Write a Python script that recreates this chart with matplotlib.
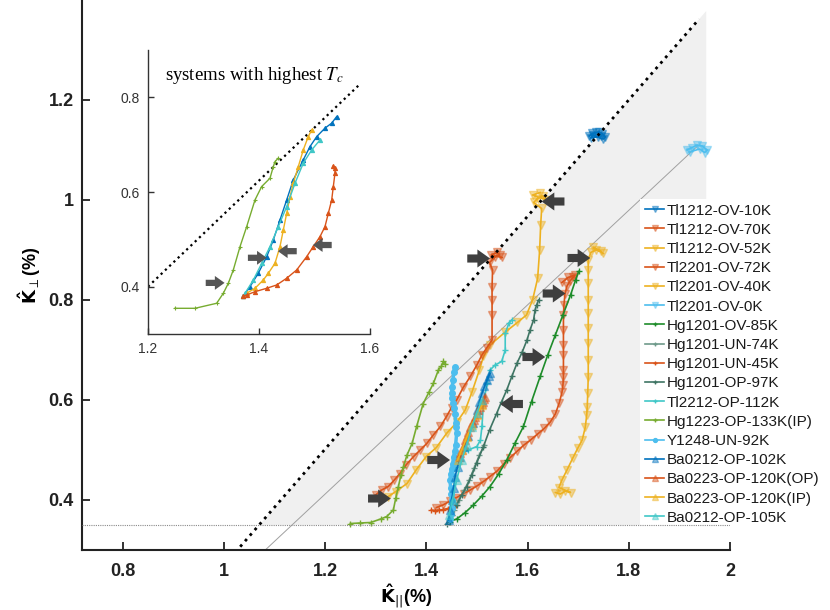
import matplotlib
matplotlib.use("Agg")
import matplotlib.pyplot as plt
from matplotlib.colors import to_rgba

plt.rcParams['font.family'] = ['Liberation Sans', 'DejaVu Sans']
plt.rcParams['mathtext.fontset'] = 'dejavusans'

BLUE, RED, YEL, LBLUE = "#0072BD", "#D95319", "#EDB120", "#4DBEEE"
GREEN, LGREEN, TEAL, GTEAL, CYAN = "#1E8C2A", "#77AC30", "#3E7463", "#6E9A8A", "#3FC7C7"

# ---- main panel data ----
tl1212_10_x = [1.722, 1.728, 1.735, 1.742, 1.748, 1.754, 1.750, 1.740, 1.730, 1.725, 1.745]
tl1212_10_y = [1.128, 1.133, 1.135, 1.136, 1.132, 1.126, 1.122, 1.125, 1.130, 1.124, 1.128]

tl1212_70_x = [1.420, 1.433, 1.447, 1.460, 1.474, 1.487, 1.500, 1.513, 1.526, 1.540, 1.553, 1.566,
               1.580, 1.593, 1.606, 1.620, 1.633, 1.645, 1.655, 1.663, 1.668, 1.670, 1.671, 1.671,
               1.671, 1.671, 1.671, 1.671, 1.672, 1.674, 1.678, 1.684, 1.690, 1.694, 1.680, 1.668]
tl1212_70_y = [0.385, 0.390, 0.398, 0.405, 0.413, 0.420, 0.428, 0.437, 0.447, 0.458, 0.472, 0.485,
               0.498, 0.510, 0.520, 0.532, 0.543, 0.556, 0.572, 0.595, 0.615, 0.630, 0.645, 0.660,
               0.690, 0.710, 0.740, 0.770, 0.790, 0.812, 0.828, 0.838, 0.845, 0.850, 0.845, 0.835]

tl1212_52_x = [1.310, 1.325, 1.340, 1.362, 1.380, 1.400, 1.420, 1.440, 1.460, 1.477, 1.490, 1.505,
               1.513, 1.526, 1.555, 1.580, 1.598, 1.610, 1.620, 1.624, 1.626, 1.628, 1.612, 1.620,
               1.630, 1.638, 1.610, 1.625]
tl1212_52_y = [0.400, 0.407, 0.417, 0.433, 0.460, 0.487, 0.505, 0.533, 0.555, 0.580, 0.615, 0.660,
               0.687, 0.710, 0.735, 0.755, 0.770, 0.800, 0.843, 0.900, 0.950, 0.983, 0.995, 1.003,
               1.008, 1.000, 1.010, 1.015]

tl2201_72_x = [1.300, 1.312, 1.325, 1.337, 1.348, 1.360, 1.375, 1.388, 1.401, 1.414, 1.428, 1.440,
               1.450, 1.460, 1.473, 1.487, 1.500, 1.510, 1.520, 1.530, 1.530, 1.530, 1.530, 1.531,
               1.525, 1.535, 1.545, 1.540, 1.528, 1.550]
tl2201_72_y = [0.410, 0.420, 0.427, 0.440, 0.453, 0.470, 0.487, 0.500, 0.513, 0.530, 0.547, 0.567,
               0.585, 0.600, 0.625, 0.647, 0.670, 0.690, 0.705, 0.720, 0.770, 0.800, 0.827, 0.860,
               0.875, 0.885, 0.890, 0.895, 0.890, 0.885]

tl2201_40_x = [1.655, 1.665, 1.675, 1.685, 1.662, 1.668, 1.678, 1.690, 1.700, 1.708, 1.714, 1.717,
               1.718, 1.719, 1.720, 1.720, 1.720, 1.720, 1.720, 1.720, 1.720, 1.720, 1.720, 1.725,
               1.735, 1.745, 1.730, 1.750]
tl2201_40_y = [0.415, 0.412, 0.418, 0.415, 0.425, 0.440, 0.460, 0.485, 0.505, 0.520, 0.545, 0.570,
               0.586, 0.614, 0.646, 0.680, 0.714, 0.744, 0.774, 0.800, 0.834, 0.860, 0.880, 0.895,
               0.900, 0.898, 0.905, 0.893]

tl2201_0_x = [1.915, 1.925, 1.935, 1.945, 1.955, 1.950, 1.940, 1.920]
tl2201_0_y = [1.100, 1.105, 1.110, 1.108, 1.100, 1.095, 1.102, 1.096]

hg1201_85_x = [1.447, 1.460, 1.477, 1.493, 1.510, 1.526, 1.543, 1.559, 1.575, 1.592, 1.608, 1.625,
               1.640, 1.655, 1.670, 1.685, 1.695, 1.701]
hg1201_85_y = [0.357, 0.362, 0.375, 0.390, 0.408, 0.427, 0.452, 0.480, 0.513, 0.547, 0.597, 0.647,
               0.690, 0.730, 0.770, 0.810, 0.840, 0.857]

hg1201_74_x = [1.445, 1.455, 1.465, 1.475, 1.485, 1.495, 1.505, 1.515]
hg1201_74_y = [0.360, 0.380, 0.400, 0.420, 0.440, 0.465, 0.490, 0.510]

hg1201_45_x = [1.410, 1.418, 1.426, 1.434, 1.442, 1.450, 1.458]
hg1201_45_y = [0.380, 0.379, 0.380, 0.381, 0.383, 0.386, 0.390]

hg1201_97_x = [1.440, 1.450, 1.460, 1.470, 1.480, 1.490, 1.500, 1.513, 1.525, 1.539, 1.549, 1.559,
               1.569, 1.579, 1.590, 1.599, 1.605, 1.612, 1.615, 1.618, 1.622]
hg1201_97_y = [0.353, 0.370, 0.390, 0.410, 0.427, 0.450, 0.475, 0.507, 0.540, 0.573, 0.597, 0.620,
               0.647, 0.673, 0.697, 0.720, 0.740, 0.760, 0.780, 0.790, 0.800]

tl2212_x = [1.457, 1.467, 1.483, 1.500, 1.507, 1.510, 1.513, 1.520, 1.526, 1.536, 1.549, 1.556,
            1.556, 1.563, 1.569]
tl2212_y = [0.467, 0.493, 0.500, 0.507, 0.520, 0.547, 0.593, 0.633, 0.660, 0.670, 0.677, 0.700,
            0.733, 0.753, 0.760]

hg1223_x = [1.250, 1.270, 1.290, 1.310, 1.322, 1.335, 1.340, 1.345, 1.350, 1.355, 1.362, 1.372,
            1.381, 1.394, 1.405, 1.414, 1.424, 1.430, 1.434, 1.438]
hg1223_y = [0.353, 0.354, 0.355, 0.362, 0.367, 0.380, 0.405, 0.427, 0.450, 0.467, 0.490, 0.513,
            0.547, 0.593, 0.615, 0.633, 0.660, 0.668, 0.677, 0.672]

y1248_x = [1.447, 1.449, 1.450, 1.450, 1.449, 1.448, 1.447, 1.448, 1.450, 1.452, 1.454, 1.456,
           1.458, 1.460, 1.459, 1.458, 1.457, 1.455, 1.453, 1.450, 1.450, 1.451, 1.453, 1.454,
           1.456]
y1248_y = [0.362, 0.372, 0.385, 0.400, 0.412, 0.425, 0.440, 0.453, 0.462, 0.472, 0.487, 0.498,
           0.510, 0.533, 0.545, 0.553, 0.573, 0.585, 0.595, 0.605, 0.613, 0.625, 0.640, 0.655,
           0.665]

ba0212_102_x = [1.444, 1.447, 1.450, 1.454, 1.457, 1.462, 1.467, 1.475, 1.483, 1.492, 1.500, 1.505,
                1.510, 1.515, 1.520, 1.523, 1.526]
ba0212_102_y = [0.360, 0.380, 0.400, 0.425, 0.447, 0.467, 0.487, 0.507, 0.527, 0.553, 0.580, 0.597,
                0.613, 0.627, 0.640, 0.647, 0.653]

ba0223_op_x = [1.464, 1.467, 1.470, 1.474, 1.477, 1.480, 1.483, 1.487, 1.490, 1.494, 1.497, 1.500,
               1.503, 1.507, 1.510, 1.512, 1.514, 1.516]
ba0223_op_y = [0.487, 0.494, 0.500, 0.510, 0.520, 0.528, 0.535, 0.545, 0.553, 0.560, 0.567, 0.573,
               0.580, 0.587, 0.592, 0.597, 0.602, 0.607]

ba0223_ip_x = [1.462, 1.470, 1.480, 1.490, 1.500, 1.510]
ba0223_ip_y = [0.480, 0.500, 0.525, 0.550, 0.570, 0.590]

ba0212_105_x = [1.445, 1.452, 1.460, 1.470, 1.480, 1.490, 1.500, 1.510]
ba0212_105_y = [0.370, 0.400, 0.440, 0.480, 0.510, 0.545, 0.575, 0.600]

# ---- inset data (systems with highest Tc) ----
in_hg1223_x = [1.2486, 1.2847, 1.3237, 1.3357, 1.3447, 1.3537, 1.3658, 1.3778, 1.3928, 1.4048,
               1.4198, 1.4258, 1.4288, 1.4348]
in_hg1223_y = [0.3543, 0.3543, 0.3649, 0.3860, 0.4071, 0.4353, 0.4846, 0.5269, 0.5833, 0.6115,
               0.6291, 0.6537, 0.6643, 0.6715]
in_ba0212_102_x = [1.3718, 1.3838, 1.3987, 1.4139, 1.4258, 1.4378, 1.4499, 1.4618, 1.4798, 1.4919,
                   1.5040, 1.5189, 1.5310, 1.5400]
in_ba0212_102_y = [0.3803, 0.4000, 0.4283, 0.4634, 0.4987, 0.5410, 0.5833, 0.6256, 0.6679, 0.6960,
                   0.7171, 0.7349, 0.7455, 0.7595]
in_ba0212_105_x = [1.3718, 1.3748, 1.3897, 1.4049, 1.4198, 1.4348, 1.4499, 1.4649, 1.4798, 1.4950,
                   1.5099]
in_ba0212_105_y = [0.3803, 0.3860, 0.4140, 0.4495, 0.4846, 0.5269, 0.5691, 0.6186, 0.6609, 0.6890,
                   0.7100]
in_ba0223_ip_x = [1.3718, 1.3778, 1.3928, 1.4078, 1.4168, 1.4288, 1.4378, 1.4438, 1.4499, 1.4559,
                  1.4618, 1.4708, 1.4798, 1.4888, 1.4950]
in_ba0223_ip_y = [0.3803, 0.3860, 0.3966, 0.4142, 0.4283, 0.4494, 0.4846, 0.5198, 0.5551, 0.5903,
                  0.6186, 0.6537, 0.6890, 0.7171, 0.7313]
in_ba0223_op_x = [1.3718, 1.3778, 1.3928, 1.4139, 1.4319, 1.4499, 1.4679, 1.4859, 1.4978, 1.5099,
                  1.5189, 1.5249, 1.5310, 1.5339, 1.5369, 1.5369, 1.5339]
in_ba0223_op_y = [0.3803, 0.3825, 0.3894, 0.3966, 0.4036, 0.4178, 0.4353, 0.4634, 0.4846, 0.5057,
                  0.5269, 0.5551, 0.5833, 0.6115, 0.6397, 0.6502, 0.6552]

# reference lines / arrows
diag_x, diag_y = [1.0325, 1.939], [0.3066, 1.362]
shade_x, shade_y = [1.0705, 1.953, 1.953], [0.35, 1.378, 0.35]
guide_x, guide_y = [1.082, 1.935], [0.300, 1.107]
floor_y = 0.35
in_diag_x, in_diag_y = [1.2, 1.582], [0.4, 0.828]
arrow_x = [1.330, 1.447, 1.546, 1.635, 1.526, 1.628, 1.724, 1.675]
arrow_y = [0.403, 0.480, 0.592, 0.686, 0.883, 0.997, 0.884, 0.813]
arrow_dir = [1, 1, -1, 1, 1, -1, 1, 1]
in_arrow_x = [1.338, 1.414, 1.434, 1.497]
in_arrow_y = [0.408, 0.461, 0.475, 0.488]
in_arrow_dir = [1, 1, -1, -1]

series = [
    ("Tl1212-OV-10K", BLUE, "v", tl1212_10_x, tl1212_10_y),
    ("Tl1212-OV-70K", RED, "v", tl1212_70_x, tl1212_70_y),
    ("Tl1212-OV-52K", YEL, "v", tl1212_52_x, tl1212_52_y),
    ("Tl2201-OV-72K", RED, "v", tl2201_72_x, tl2201_72_y),
    ("Tl2201-OV-40K", YEL, "v", tl2201_40_x, tl2201_40_y),
    ("Tl2201-OV-0K", LBLUE, "v", tl2201_0_x, tl2201_0_y),
    ("Hg1201-OV-85K", GREEN, "+", hg1201_85_x, hg1201_85_y),
    ("Hg1201-UN-74K", GTEAL, "+", hg1201_74_x, hg1201_74_y),
    ("Hg1201-UN-45K", RED, "+", hg1201_45_x, hg1201_45_y),
    ("Hg1201-OP-97K", TEAL, "+", hg1201_97_x, hg1201_97_y),
    ("Tl2212-OP-112K", CYAN, "+", tl2212_x, tl2212_y),
    ("Hg1223-OP-133K(IP)", LGREEN, "+", hg1223_x, hg1223_y),
    ("Y1248-UN-92K", LBLUE, ".", y1248_x, y1248_y),
    ("Ba0212-OP-102K", BLUE, "^", ba0212_102_x, ba0212_102_y),
    ("Ba0223-OP-120K(OP)", RED, "^", ba0223_op_x, ba0223_op_y),
    ("Ba0223-OP-120K(IP)", YEL, "^", ba0223_ip_x, ba0223_ip_y),
    ("Ba0212-OP-105K", CYAN, "^", ba0212_105_x, ba0212_105_y),
]
marker_size = {"v": 6, "+": 5, ".": 8, "^": 6}

fig = plt.figure(figsize=(8.3, 6.1), dpi=100)
ax = fig.add_axes([82 / 830, 60 / 610, 648 / 830, 550 / 610])

ax.fill(shade_x, shade_y, color="#f0f0f0", lw=0, zorder=0)
ax.plot(diag_x, diag_y, ls=":", color="black", lw=2, zorder=5)
ax.plot(guide_x, guide_y, color="#a0a0a0", lw=0.7, zorder=1)
ax.axhline(floor_y, color="#8a8a8a", lw=0.8, ls=(0, (1, 1)), zorder=6)

for name, col, mk, xs, ys in series:
    face = to_rgba(col, 0.45) if mk in "v^" else col
    lw = 2.5 if mk == "." else 1.2
    ax.plot(xs, ys, color=col, marker=mk, ms=marker_size[mk], mew=1,
            mfc=face, lw=lw, label=name, zorder=3)


def block_arrow(a, x, y, d, length, col, scale):
    a.annotate("", xy=(x, y), xytext=(x - d * length, y), zorder=6,
               arrowprops=dict(arrowstyle="simple,head_length=0.7,head_width=1.0,tail_width=0.45",
                               fc=col, ec="none", mutation_scale=scale, shrinkA=0, shrinkB=0))


for x, y, d in zip(arrow_x, arrow_y, arrow_dir):
    block_arrow(ax, x, y, d, 0.045, "#3f3f3f", 13)

ax.set_xlim(0.72, 2.0)
ax.set_ylim(0.3, 1.4)
ax.set_xticks([0.8, 1, 1.2, 1.4, 1.6, 1.8, 2])
ax.set_yticks([0.4, 0.6, 0.8, 1, 1.2])
ax.set_xticklabels(["0.8", "1", "1.2", "1.4", "1.6", "1.8", "2"])
ax.set_yticklabels(["0.4", "0.6", "0.8", "1", "1.2"])
for s in ["top", "right"]:
    ax.spines[s].set_visible(False)
for s in ["left", "bottom"]:
    ax.spines[s].set_linewidth(1.5)
    ax.spines[s].set_color("#222222")
ax.tick_params(direction="in", length=6, width=1.3, labelsize=13, colors="#222222")
ax.tick_params(axis="x", pad=9)
ax.tick_params(axis="y", pad=6)
for lab in ax.get_xticklabels() + ax.get_yticklabels():
    lab.set_fontweight("bold")
ax.set_facecolor("white")
ax.set_xlabel(r"$\mathbf{\hat{K}}_{||}$(%)", fontsize=13, fontweight="bold", labelpad=2)
ax.set_ylabel(r"$\mathbf{\hat{K}}_{\perp}$(%)", fontsize=13, fontweight="bold", labelpad=4)

leg = ax.legend(loc="upper left", bbox_to_anchor=(640 / 830, (610 - 199) / 610),
                bbox_transform=fig.transFigure, fontsize=11, labelspacing=0.34,
                handlelength=1.3, handletextpad=0.15, borderpad=0.3, borderaxespad=0,
                fancybox=False, framealpha=1, edgecolor="none", markerscale=0.7)
for t in leg.get_texts():
    t.set_color("#1a1a1a")
for h in leg.get_lines():
    h.set_linewidth(1.2)

# ---- inset ----
ins = fig.add_axes([148 / 830, (610 - 334) / 610, 222 / 830, 284 / 610])
ins.set_facecolor("none")
ins.plot(in_diag_x, in_diag_y, ls=":", color="black", lw=1.6)
inset_series = [
    (LGREEN, "+", in_hg1223_x, in_hg1223_y),
    (BLUE, "^", in_ba0212_102_x, in_ba0212_102_y),
    (YEL, "^", in_ba0223_ip_x, in_ba0223_ip_y),
    (CYAN, "^", in_ba0212_105_x, in_ba0212_105_y),
    (RED, "^", in_ba0223_op_x, in_ba0223_op_y),
]
for col, mk, xs, ys in inset_series:
    ins.plot(xs, ys, color=col, marker=mk, ms=3, mew=0.8, lw=1.0)
for x, y, d in zip(in_arrow_x, in_arrow_y, in_arrow_dir):
    block_arrow(ins, x, y, d, 0.034, "#555555", 10)
ins.set_xlim(1.2, 1.6)
ins.set_ylim(0.3, 0.9)
ins.set_xticks([1.2, 1.4, 1.6])
ins.set_yticks([0.4, 0.6, 0.8])
ins.set_xticklabels(["1.2", "1.4", "1.6"])
ins.set_yticklabels(["0.4", "0.6", "0.8"])
for s in ["top", "right"]:
    ins.spines[s].set_visible(False)
for s in ["left", "bottom"]:
    ins.spines[s].set_linewidth(1.0)
    ins.spines[s].set_color("#333333")
ins.tick_params(direction="in", length=4, width=1, labelsize=10, colors="#333333", pad=6)
ins.text(0.077, 0.894, r"systems with highest $T_c$", transform=ins.transAxes,
         fontsize=13.5, family="Liberation Serif", math_fontfamily="stix", va="baseline")

fig.savefig("out.png", dpi=100)
